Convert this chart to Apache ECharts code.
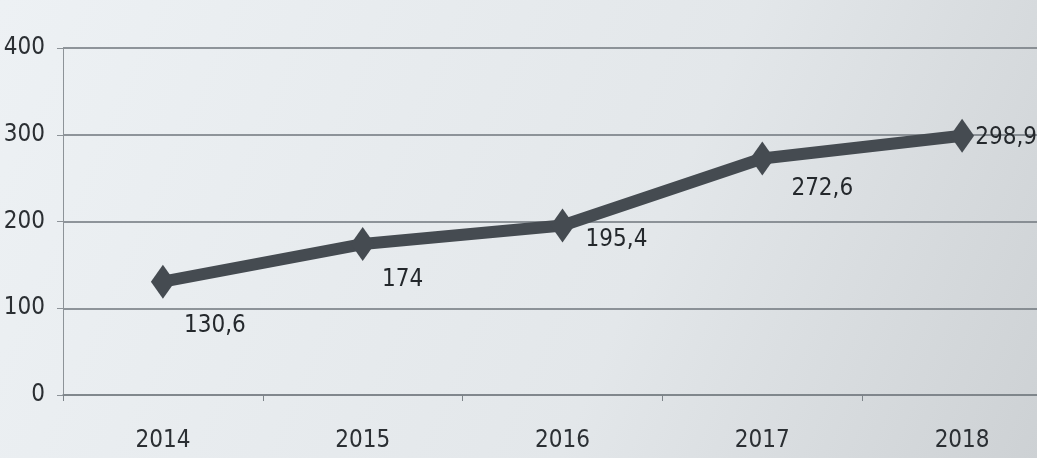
<!DOCTYPE html>
<html>
<head>
<meta charset="utf-8">
<script src="https://cdn.jsdelivr.net/npm/echarts@6/dist/echarts.min.js"></script>
<style>
  html, body { margin: 0; padding: 0; overflow: hidden; width: 1037px; height: 458px; }
  #chart { width: 1062px; height: 458px; }
</style>
</head>
<body>
<div id="chart"></div>
<script>
// данные
const years = ["2014", "2015", "2016", "2017", "2018"];
const values = [130.6, 174, 195.4, 272.6, 298.9];
const yTicks = [0, 100, 200, 300, 400];

// смещения подписей относительно точек
const labelShift = [[52, 44], [40, 36], [54, 14], [60, 30], [44, 2]];

const fmt = (v) => String(v).replace(".", ",");
const font = "'Liberation Sans Narrow', 'DejaVu Sans Condensed', sans-serif";

const chart = echarts.init(document.getElementById("chart"), null, { renderer: "canvas" });

chart.setOption({
  animation: false,
  backgroundColor: {
    type: "linear", x: 0, y: 0, x2: 1, y2: 1,
    colorStops: [
      { offset: 0, color: "#edf1f4" },
      { offset: 0.6, color: "#e3e7ea" },
      { offset: 1, color: "#ccd0d3" }
    ]
  },
  grid: { left: 63, right: 0, top: 48, bottom: 63 },
  xAxis: {
    type: "category",
    data: years,
    axisLine: { show: true, lineStyle: { color: "#7d8489", width: 1.5 } },
    axisTick: { show: true, length: 6, lineStyle: { color: "#7d8489" } },
    axisLabel: { color: "#2b2f33", fontFamily: font, fontSize: 24, margin: 34 }
  },
  yAxis: {
    type: "value",
    min: yTicks[0],
    max: yTicks[yTicks.length - 1],
    interval: 100,
    axisLine: { show: true, lineStyle: { color: "#8d9398", width: 1 } },
    axisTick: { show: true, length: 6, lineStyle: { color: "#8d9398" } },
    axisLabel: { color: "#2b2f33", fontFamily: font, fontSize: 24, margin: 18 },
    splitLine: { lineStyle: { color: "#6f767c", width: 1.5 } }
  },
  series: [{
    type: "line",
    data: values.map((v, i) => ({
      value: v,
      label: { offset: labelShift[i] }
    })),
    symbol: "diamond",
    symbolSize: [24, 34],
    lineStyle: { color: "#454b51", width: 12 },
    itemStyle: { color: "#454b51" },
    label: {
      show: true,
      position: "inside",
      formatter: (p) => fmt(p.value),
      color: "#24282c",
      fontFamily: font,
      fontSize: 24
    }
  }]
});

window.addEventListener("resize", () => chart.resize());
</script>
</body>
</html>
